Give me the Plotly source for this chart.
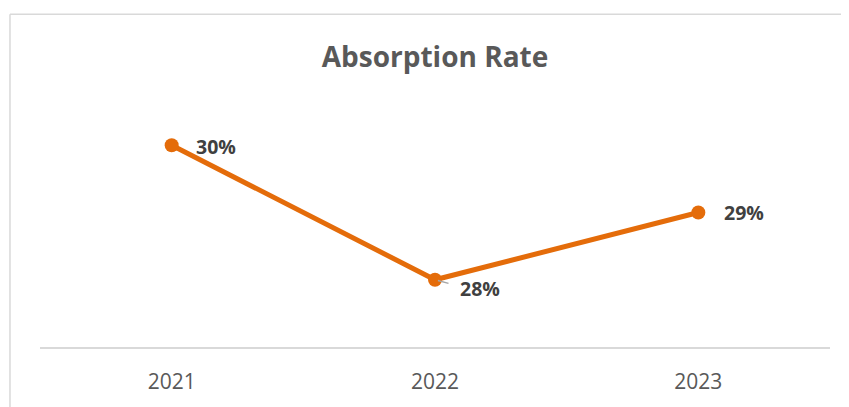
import plotly.graph_objects as go

years = ["2021", "2022", "2023"]
rates = [0.30, 0.28, 0.29]
labels = ["30%", "28%", "29%"]
title_text = "Absorption Rate"

ORANGE = "#E46C0A"
FONT = "Open Sans"

W, H = 841, 399  # page body has an 8px margin

fig = go.Figure()
fig.add_trace(go.Scatter(
    x=years, y=rates, mode="lines+markers",
    line=dict(color=ORANGE, width=5),
    marker=dict(color=ORANGE, size=14),
    hoverinfo="skip", showlegend=False,
))

# data labels (category index positions)
offsets = [(22, -1), (23, -9), (24, 0)]
for i, (yv, t, (dx, dy)) in enumerate(zip(rates, labels, offsets)):
    fig.add_annotation(x=i, y=yv, text="<b>%s</b>" % t, showarrow=False,
                       xanchor="left", yanchor="middle", xshift=dx, yshift=dy,
                       font=dict(family=FONT, size=19.5, color="#404040"))

# leader line for the middle label
fig.add_annotation(x=1, y=rates[1], ax=15, ay=4, axref="pixel", ayref="pixel",
                   text="", showarrow=True, arrowhead=0, arrowwidth=1.5,
                   arrowcolor="#A6A6A6", standoff=3)

fig.update_layout(
    width=W, height=H,
    margin=dict(l=32, r=19, t=70, b=60, autoexpand=False),
    paper_bgcolor="white", plot_bgcolor="white",
    title=dict(text="<b>%s</b>" % title_text, x=0.5, xref="paper",
               y=1 - 49 / H, yref="container", yanchor="middle", xanchor="center",
               font=dict(family=FONT, size=28, color="#595959")),
    xaxis=dict(type="category", range=[-0.5, 2.5], showgrid=False, zeroline=False,
               showline=True, linecolor="#D9D9D9", linewidth=1.5,
               ticks="", ticklabelstandoff=15,
               tickfont=dict(family=FONT, size=21, color="#595959")),
    yaxis=dict(range=[0.27, 0.31], visible=False, showgrid=False, zeroline=False),
    shapes=[
        dict(type="line", xref="paper", yref="paper", x0=-0.038, x1=1.1,
             y0=1.237, y1=1.237, line=dict(color="#D9D9D9", width=1.5)),
        dict(type="line", xref="paper", yref="paper", x0=-0.038, x1=-0.038,
             y0=1.237, y1=-0.25, line=dict(color="#D9D9D9", width=1.5)),
    ],
)

fig.write_html("out.html")
